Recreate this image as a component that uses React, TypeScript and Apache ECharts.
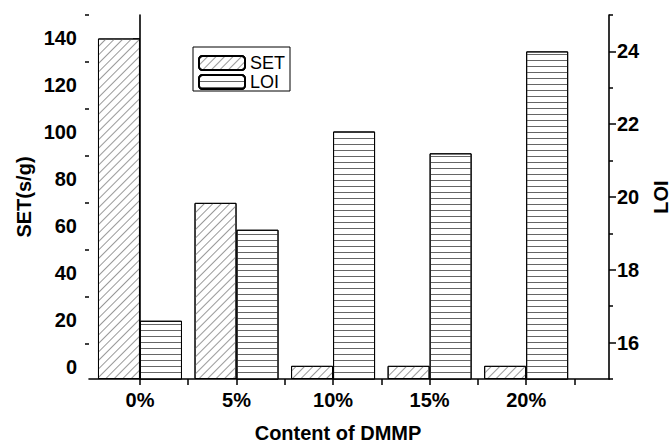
import React, { useEffect, useRef } from "react";
import * as echarts from "echarts";

const categories = [0, 5, 10, 15, 20];
const setValues = [140, 70, 0.6, 0.6, 0.6];
const loiValues = [16.6, 19.1, 21.8, 21.2, 24.0];
const setTickLabels = [0, 20, 40, 60, 80, 100, 120, 140];
const setMinorTicks = [10, 30, 50, 70, 90, 110, 130, 150];
const loiTickLabels = [16, 18, 20, 22, 24];
const loiMinorTicks = [15, 17, 19, 21, 23, 25];
const xMinorTicks = [2.5, 7.5, 12.5, 17.5, 22.5];

const SET_MIN = -5;
const SET_MAX = 150;
const FONT = "'Liberation Sans', Arial, sans-serif";

export default function App() {
  const ref = useRef<HTMLDivElement>(null);
  useEffect(() => {
    if (!ref.current) return;
    const chart = echarts.init(ref.current, undefined, { renderer: "svg" });
    const shift = (v: number) => v - SET_MIN;
    const axisLine = { show: true, lineStyle: { color: "#000", width: 1.6 } };
    const labelStyle = { color: "#000", fontSize: 20, fontWeight: "bold" as const, fontFamily: FONT };
    const nameStyle = { ...labelStyle, fontSize: 20 };
    const tickStyle = { color: "#000", width: 1.5 };
    chart.setOption({
      animation: false,
      backgroundColor: "#fff",
      grid: { left: 89, right: 62, top: 15, bottom: 67, containLabel: false, outerBoundsMode: "none" },
      legend: {
        orient: "vertical",
        left: 193,
        top: 47,
        itemWidth: 46,
        itemHeight: 14,
        itemGap: 1,
        padding: [7, 5, 0, 5],
        borderColor: "#000",
        borderWidth: 1,
        textStyle: { color: "#000", fontSize: 18, fontFamily: FONT },
        data: ["SET", "LOI"],
      },
      xAxis: {
        type: "value",
        min: -2.64,
        max: 24.29,
        name: "Content of DMMP",
        nameLocation: "middle",
        nameGap: 44,
        nameMoveOverlap: false,
        nameTextStyle: { ...nameStyle, padding: [0, 22, 0, 0] },
        axisLine,
        splitLine: { show: false },
        axisTick: {
          show: true,
          inside: false,
          length: 6,
          lineStyle: tickStyle,
          customValues: [...categories, ...xMinorTicks],
        },
        axisLabel: {
          ...labelStyle,
          margin: 11,
          customValues: categories,
          formatter: (v: number) => `${v}%`,
        },
      },
      yAxis: [
        {
          type: "value",
          position: "left",
          min: 0,
          max: SET_MAX - SET_MIN,
          name: "SET(s/g)",
          nameLocation: "middle",
          nameGap: 55,
          nameRotate: 90,
          nameMoveOverlap: false,
          nameTextStyle: nameStyle,
          axisLine,
          splitLine: { show: false },
          axisTick: {
            show: true,
            inside: false,
            length: 7,
            lineStyle: tickStyle,
            customValues: setTickLabels.map(shift),
          },
          axisLabel: {
            ...labelStyle,
            margin: 12,
            customValues: setTickLabels.map(shift),
            formatter: (v: number) => String(Math.round(v + SET_MIN)),
          },
        },
        {
          type: "value",
          position: "right",
          min: 15,
          max: 25,
          name: "LOI",
          nameLocation: "middle",
          nameGap: 42,
          nameRotate: 90,
          nameMoveOverlap: false,
          nameTextStyle: nameStyle,
          axisLine,
          splitLine: { show: false },
          axisTick: {
            show: true,
            inside: false,
            length: 7,
            lineStyle: tickStyle,
            customValues: loiTickLabels,
          },
          axisLabel: {
            ...labelStyle,
            margin: 8,
            customValues: loiTickLabels,
          },
        },
        {
          type: "value",
          position: "left",
          min: 0,
          max: SET_MAX - SET_MIN,
          axisLine: { show: false },
          splitLine: { show: false },
          axisLabel: { show: false },
          axisTick: {
            show: true,
            inside: false,
            length: 4,
            lineStyle: tickStyle,
            customValues: setMinorTicks.map(shift),
          },
        },
        {
          type: "value",
          position: "right",
          min: 15,
          max: 25,
          axisLine: { show: false },
          splitLine: { show: false },
          axisLabel: { show: false },
          axisTick: {
            show: true,
            inside: false,
            length: 4,
            lineStyle: tickStyle,
            customValues: loiMinorTicks,
          },
        },
      ],
      series: [
        {
          name: "SET",
          type: "bar",
          xAxisIndex: 0,
          yAxisIndex: 0,
          barWidth: 42,
          barGap: "0%",
          data: categories.map((c, i) => [c, shift(setValues[i])]),
          itemStyle: {
            color: "#fff",
            borderColor: "#000",
            borderWidth: 1,
            decal: {
              symbol: "rect",
              symbolSize: 1,
              dashArrayX: [1, 0],
              dashArrayY: [1, 5],
              rotation: -Math.PI / 4,
              color: "#999",
              backgroundColor: "#fff",
            },
          },
        },
        {
          name: "LOI",
          type: "bar",
          xAxisIndex: 0,
          yAxisIndex: 1,
          barWidth: 42,
          barGap: "0%",
          data: categories.map((c, i) => [c, loiValues[i]]),
          itemStyle: {
            color: "#fff",
            borderColor: "#000",
            borderWidth: 1,
            decal: {
              symbol: "rect",
              symbolSize: 1,
              dashArrayX: [1, 0],
              dashArrayY: [1, 5],
              rotation: 0,
              color: "#666",
              backgroundColor: "#fff",
            },
          },
        },
      ],
    });
    return () => chart.dispose();
  }, []);
  return <div ref={ref} style={{ width: 671, height: 446, position: "absolute", left: 0, top: 0 }} />;
}
